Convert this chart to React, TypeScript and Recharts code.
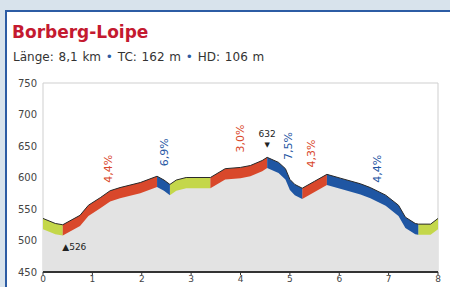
import React from 'react';
import {
  ComposedChart,
  Area,
  Line,
  XAxis,
  YAxis,
  ReferenceArea,
  ReferenceDot,
} from 'recharts';

// profile (km / m above sea level)
const distanceKm = [
  0, 0.25, 0.4, 0.75, 0.92, 1.16, 1.36, 1.56, 1.97, 2.31, 2.45, 2.57, 2.7, 2.9, 3.39, 3.69, 4.0,
  4.2, 4.44, 4.54, 4.77, 4.91, 5.0, 5.1, 5.25, 5.5, 5.75, 6.02, 6.43, 6.63, 6.94, 7.2, 7.34, 7.54,
  7.6, 7.85, 8.0,
];
const elevation = [
  535, 527, 525, 540, 556, 568, 579, 584, 592, 602, 596, 589, 596, 600, 600, 614, 616, 619, 627,
  632, 624, 614, 597, 589, 583, 594, 605, 599, 590, 584, 572, 556, 537, 527, 526, 526, 535,
];

// coloured sections: flat / climb / descent
const segStart = [0, 0.4, 2.31, 2.57, 3.39, 4.54, 5.25, 5.75, 7.6];
const segEnd = [0.4, 2.31, 2.57, 3.39, 4.54, 5.25, 5.75, 7.6, 8.0];
const segKind = ['flat', 'up', 'down', 'flat', 'up', 'down', 'up', 'down', 'flat'];

// gradient labels
const gradeText = ['4,4%', '6,9%', '3,0%', '7,5%', '4,3%', '4,4%'];
const gradeKind = ['up', 'down', 'up', 'down', 'up', 'down'];
const gradeKm = [1.32, 2.47, 4.0, 4.97, 5.44, 6.77];
const gradeElev = [614, 640, 662, 650, 638, 614];

const xTicks = [0, 1, 2, 3, 4, 5, 6, 7, 8];
const yTicks = [450, 500, 550, 600, 650, 700, 750];

const BAND = 17;
const colors: Record<string, string> = { flat: '#c4d74a', up: '#d9482b', down: '#1f56a3' };

const data = distanceKm.map((km, i) => {
  const row: any = { km, elev: elevation[i], flat: null, up: null, down: null };
  segKind.forEach((k, s) => {
    if (km >= segStart[s] && km <= segEnd[s]) row[k] = [elevation[i] - BAND, elevation[i]];
  });
  return row;
});

const font = '"DejaVu Sans", sans-serif';

export default function App() {
  return (
    <div
      style={{
        position: 'fixed',
        left: 0,
        top: 0,
        width: 450,
        height: 287,
        overflow: 'hidden',
        background: '#d8e3ec',
        fontFamily: font,
      }}
    >
      <div
        style={{
          position: 'absolute',
          left: 5,
          top: 10,
          width: 470,
          height: 300,
          background: '#fff',
          borderLeft: '2px solid #2c5ca4',
          borderTop: '2px solid #2c5ca4',
        }}
      />
      <div
        style={{
          position: 'absolute',
          left: 12,
          top: 22,
          fontSize: 17,
          fontWeight: 'bold',
          color: '#c41a30',
        }}
      >
        Borberg-Loipe
      </div>
      <div
        style={{
          position: 'absolute',
          left: 13,
          top: 50,
          fontSize: 12,
          color: '#333',
          wordSpacing: 1,
        }}
      >
        Länge: 8,1 km <span style={{ color: '#2c5ca4' }}>•</span> TC: 162 m{' '}
        <span style={{ color: '#2c5ca4' }}>•</span> HD: 106 m
      </div>
      <div style={{ position: 'absolute', left: 0, top: 0 }}>
        <ComposedChart
          width={450}
          height={287}
          data={data}
          margin={{ top: 83, right: 12, bottom: 0, left: 8 }}
        >
          <XAxis
            dataKey="km"
            type="number"
            domain={[0, 8]}
            ticks={xTicks}
            allowDataOverflow
            height={15}
            tickSize={3}
            tickMargin={1}
            tick={{ fill: '#444', fontSize: 9, fontFamily: font }}
            axisLine={{ stroke: '#333', strokeWidth: 2 }}
            tickLine={{ stroke: '#333' }}
          />
          <YAxis
            type="number"
            domain={[450, 750]}
            ticks={yTicks}
            allowDataOverflow
            width={35}
            tickSize={3}
            tickMargin={3}
            tick={{ fill: '#444', fontSize: 10, fontFamily: font }}
            axisLine={false}
            tickLine={false}
          />
          <ReferenceArea x1={0} x2={8} y1={450} y2={750} fill="none" stroke="#cfcfcf" />
          <Area
            dataKey="elev"
            type="linear"
            baseValue={450}
            fill="#e3e3e3"
            fillOpacity={1}
            stroke="none"
            isAnimationActive={false}
          />
          {['flat', 'up', 'down'].map((k) => (
            <Area
              key={k}
              dataKey={k}
              type="linear"
              fill={colors[k]}
              fillOpacity={1}
              stroke="none"
              connectNulls={false}
              isAnimationActive={false}
            />
          ))}
          <Line
            dataKey="elev"
            type="linear"
            stroke="#2a2a2a"
            strokeWidth={1}
            dot={false}
            isAnimationActive={false}
          />
          {gradeText.map((t, i) => (
            <ReferenceDot
              key={i}
              x={gradeKm[i]}
              y={gradeElev[i]}
              r={0}
              shape={(p: any) => (
                <text
                  x={p.cx}
                  y={p.cy}
                  transform={`rotate(-90, ${p.cx}, ${p.cy})`}
                  textAnchor="middle"
                  dominantBaseline="central"
                  fontSize={11}
                  fontFamily={font}
                  fill={colors[gradeKind[i]]}
                >
                  {t}
                </text>
              )}
            />
          ))}
          <ReferenceDot
            x={4.54}
            y={664}
            r={0}
            shape={(p: any) => (
              <g>
                <text x={p.cx} y={p.cy} textAnchor="middle" fontSize={9} fontFamily={font} fill="#222">
                  632
                </text>
                <text x={p.cx} y={p.cy + 10} textAnchor="middle" fontSize={7} fontFamily={font} fill="#222">
                  ▼
                </text>
              </g>
            )}
          />
          <ReferenceDot
            x={0.39}
            y={489}
            r={0}
            shape={(p: any) => (
              <text x={p.cx} y={p.cy} dominantBaseline="central" fontSize={9} fontFamily={font} fill="#222">
                ▲526
              </text>
            )}
          />
        </ComposedChart>
      </div>
    </div>
  );
}
